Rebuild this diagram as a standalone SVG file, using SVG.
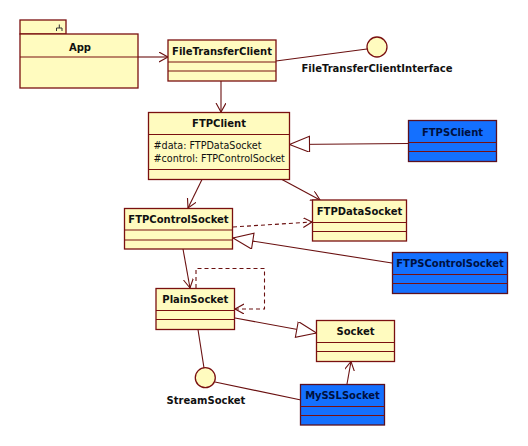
<svg xmlns="http://www.w3.org/2000/svg" width="528" height="446" viewBox="0 0 528 446">
<defs>
<style>
.box{fill:#FFFBBF;stroke:#7A1010;stroke-width:1.3}
.blue{fill:#1470FF;stroke:#5A1020;stroke-width:1.3}
.div{stroke:#7A1010;stroke-width:1.2}
.t{font-family:"DejaVu Sans",sans-serif;font-weight:bold;font-size:10px;fill:#111;text-anchor:middle}
.tb{font-family:"DejaVu Sans",sans-serif;font-weight:bold;font-size:10px;fill:#001040;text-anchor:middle}
.a{font-family:"DejaVu Sans",sans-serif;font-size:9.6px;fill:#111}
.c{fill:none;stroke:#6A1010;stroke-width:1.1}
.d{fill:none;stroke:#6A1010;stroke-width:1.1;stroke-dasharray:4 3}
.i{fill:#FFFBBF;stroke:#7A1010;stroke-width:1.3}
</style>
<marker id="open" markerUnits="userSpaceOnUse" markerWidth="12" markerHeight="12" refX="9" refY="5" orient="auto">
<path d="M0,0 L9,5 L0,10" fill="none" stroke="#6A1010" stroke-width="1.1"/>
</marker>
<marker id="gen" markerUnits="userSpaceOnUse" markerWidth="24" markerHeight="18" refX="21" refY="8" orient="auto">
<path d="M1,0 L21,8 L1,16 Z" fill="#fff" stroke="#6A1010" stroke-width="1.1"/>
</marker>
</defs>
<rect width="528" height="446" fill="#fff"/>
<g id="connectors">
<line class="c" x1="138" y1="57" x2="168" y2="57" marker-end="url(#open)"/>
<line class="c" x1="221" y1="81" x2="221" y2="112" marker-end="url(#open)"/>
<line class="c" x1="276" y1="61" x2="367" y2="49"/>
<line class="c" x1="408" y1="143.5" x2="289.5" y2="144.5" marker-end="url(#gen)"/>
<line class="c" x1="202" y1="179.5" x2="188" y2="208" marker-end="url(#open)"/>
<line class="c" x1="282" y1="179.5" x2="320" y2="200" marker-end="url(#open)"/>
<line class="d" x1="233" y1="227" x2="312" y2="222" marker-end="url(#open)"/>
<line class="c" x1="392" y1="263" x2="233" y2="238" marker-end="url(#gen)"/>
<line class="c" x1="183" y1="249" x2="190" y2="288" marker-end="url(#open)"/>
<path class="d" d="M196,288 V268.5 H264.5 V309 H235" marker-end="url(#open)"/>
<line class="c" x1="235" y1="318" x2="316.5" y2="333" marker-end="url(#gen)"/>
<line class="c" x1="198" y1="329.5" x2="204" y2="368"/>
<line class="c" x1="215" y1="382" x2="301" y2="400"/>
<line class="c" x1="347" y1="384" x2="351" y2="361.5" marker-end="url(#open)"/>
</g>
<g id="App">
<rect class="box" x="20" y="20" width="46" height="14"/>
<rect class="box" x="20" y="34" width="118" height="54"/>
<line class="div" x1="20" y1="57" x2="138" y2="57"/>
<path d="M59.3,24.5 V28 M56.5,31 V28 H62 V31" fill="none" stroke="#333" stroke-width="1"/>
<text class="t" x="80" y="50.5">App</text>
</g>
<g id="FileTransferClient">
<rect class="box" x="168" y="40" width="108" height="41"/>
<line class="div" x1="168" y1="62" x2="276" y2="62"/>
<line class="div" x1="168" y1="71" x2="276" y2="71"/>
<text class="t" x="222" y="55">FileTransferClient</text>
</g>
<g id="FileTransferClientInterface">
<circle class="i" cx="377" cy="47" r="10"/>
<text class="t" x="377" y="72">FileTransferClientInterface</text>
</g>
<g id="FTPClient">
<rect class="box" x="148.5" y="112.5" width="141" height="67"/>
<line class="div" x1="148.5" y1="134.5" x2="289.5" y2="134.5"/>
<line class="div" x1="148.5" y1="169.5" x2="289.5" y2="169.5"/>
<text class="t" x="219" y="127">FTPClient</text>
<text class="a" x="153.5" y="148.5">#data: FTPDataSocket</text>
<text class="a" x="153.5" y="162">#control: FTPControlSocket</text>
</g>
<g id="FTPSClient">
<rect class="blue" x="408.5" y="120.5" width="88" height="41"/>
<line class="div" x1="408.5" y1="142.5" x2="496.5" y2="142.5"/>
<line class="div" x1="408.5" y1="151.5" x2="496.5" y2="151.5"/>
<text class="tb" x="452.5" y="135.5">FTPSClient</text>
</g>
<g id="FTPControlSocket">
<rect class="box" x="124.5" y="208.5" width="108" height="40.5"/>
<line class="div" x1="124.5" y1="230" x2="232.5" y2="230"/>
<line class="div" x1="124.5" y1="240" x2="232.5" y2="240"/>
<text class="t" x="178.5" y="223">FTPControlSocket</text>
</g>
<g id="FTPDataSocket">
<rect class="box" x="312.5" y="200" width="94" height="41"/>
<line class="div" x1="312.5" y1="222.5" x2="406.5" y2="222.5"/>
<line class="div" x1="312.5" y1="231.5" x2="406.5" y2="231.5"/>
<text class="t" x="359.5" y="215">FTPDataSocket</text>
</g>
<g id="FTPSControlSocket">
<rect class="blue" x="392.5" y="252.5" width="115" height="41"/>
<line class="div" x1="392.5" y1="274.5" x2="507.5" y2="274.5"/>
<line class="div" x1="392.5" y1="283.5" x2="507.5" y2="283.5"/>
<text class="tb" x="450" y="267">FTPSControlSocket</text>
</g>
<g id="PlainSocket">
<rect class="box" x="156" y="288.5" width="78.5" height="41"/>
<line class="div" x1="156" y1="310.5" x2="234.5" y2="310.5"/>
<line class="div" x1="156" y1="319.5" x2="234.5" y2="319.5"/>
<text class="t" x="195.3" y="303">PlainSocket</text>
</g>
<g id="Socket">
<rect class="box" x="316.5" y="320.5" width="78" height="41"/>
<line class="div" x1="316.5" y1="342.5" x2="394.5" y2="342.5"/>
<line class="div" x1="316.5" y1="351.5" x2="394.5" y2="351.5"/>
<text class="t" x="355.5" y="335">Socket</text>
</g>
<g id="MySSLSocket">
<rect class="blue" x="300.5" y="384.5" width="84" height="40.5"/>
<line class="div" x1="300.5" y1="406.5" x2="384.5" y2="406.5"/>
<line class="div" x1="300.5" y1="415.5" x2="384.5" y2="415.5"/>
<text class="tb" x="342.5" y="399">MySSLSocket</text>
</g>
<g id="StreamSocket">
<circle class="i" cx="205.3" cy="377.7" r="10"/>
<text class="t" x="206" y="404">StreamSocket</text>
</g>
</svg>
